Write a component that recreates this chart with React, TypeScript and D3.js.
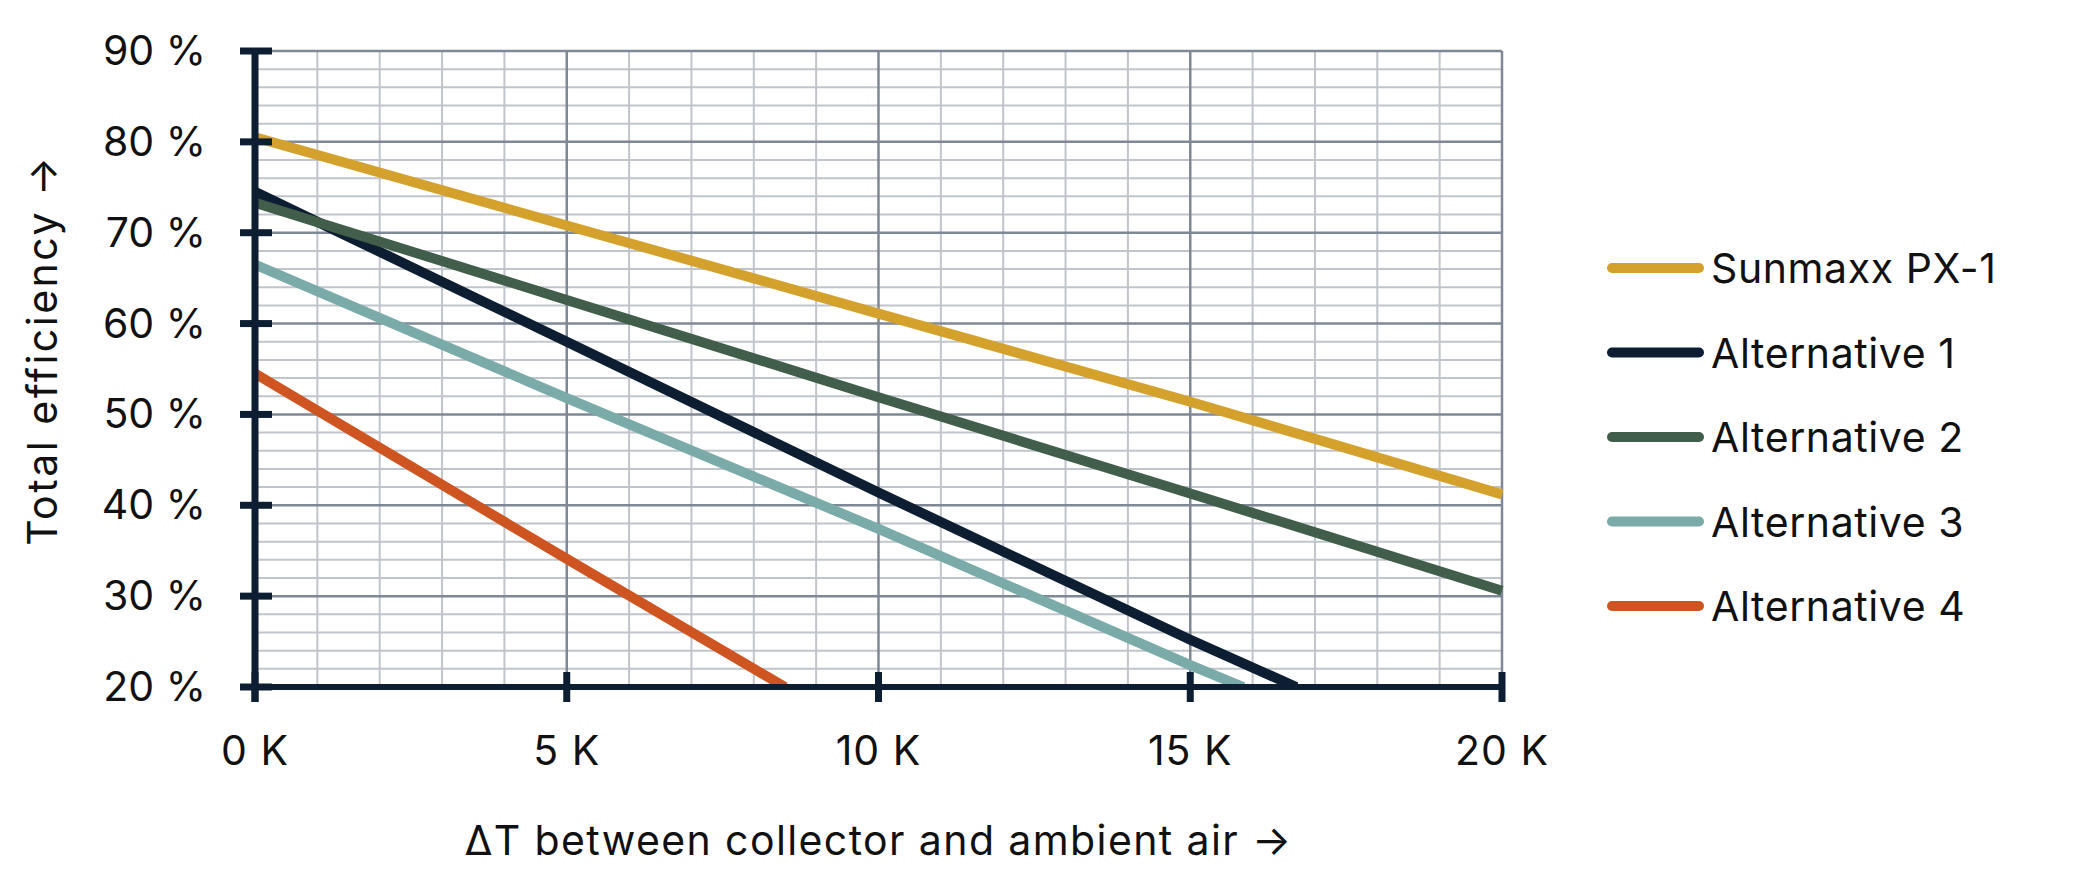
import React, { useEffect, useRef } from 'react';
import * as d3 from 'd3';

interface Series {
  name: string;
  color: string;
  points: [number, number][];
}

// values: [deltaT in K, efficiency in %]
const sunmaxx: [number, number][] = [[0, 80.5], [5, 70.8], [10, 61.1], [15, 51.4], [20, 41.2]];
const alternative1: [number, number][] = [[0, 74.5], [5, 58.0], [10, 41.4], [15, 25.2], [16.7, 20]];
const alternative2: [number, number][] = [[0, 73.3], [5, 62.6], [10, 51.9], [15, 41.3], [20, 30.6]];
const alternative3: [number, number][] = [[0, 66.5], [5, 51.8], [10, 37.4], [15, 22.4], [15.85, 20]];
const alternative4: [number, number][] = [[0, 54.5], [5, 34.1], [8.5, 20]];

const seriesNames = ['Sunmaxx PX-1', 'Alternative 1', 'Alternative 2', 'Alternative 3', 'Alternative 4'];
const seriesColors = ['#D4A12C', '#0D1E32', '#415E4A', '#7AABA8', '#CE5522'];
const seriesPoints = [sunmaxx, alternative1, alternative2, alternative3, alternative4];

const xTicks = [0, 5, 10, 15, 20];
const yTicks = [20, 30, 40, 50, 60, 70, 80, 90];

const xTitle = 'ΔT between collector and ambient air →';
const yTitle = 'Total efficiency →';

const WIDTH = 2081;
const HEIGHT = 874;
const FONT = 'Inter, "Noto Sans", sans-serif';

const App: React.FC = () => {
  const svgRef = useRef<SVGSVGElement>(null);

  useEffect(() => {
    if (!svgRef.current) return;
    const svg = d3.select(svgRef.current);
    svg.selectAll('*').remove();

    const series: Series[] = seriesNames.map((name, i) => ({
      name,
      color: seriesColors[i],
      points: seriesPoints[i],
    }));

    const x = d3.scaleLinear().domain([0, 20]).range([255, 1502]);
    const y = d3.scaleLinear().domain([20, 90]).range([687, 51]);
    const navy = '#0D1E32';

    const grid = svg.append('g');
    // minor grid
    d3.range(0, 20.01, 1).filter(v => v % 5 !== 0).forEach(v => {
      grid.append('line')
        .attr('x1', x(v)).attr('x2', x(v)).attr('y1', y(90)).attr('y2', y(20))
        .attr('stroke', '#C0C4CB').attr('stroke-width', 2);
    });
    d3.range(20, 90.01, 2).filter(v => v % 10 !== 0).forEach(v => {
      grid.append('line')
        .attr('x1', x(0)).attr('x2', x(20)).attr('y1', y(v)).attr('y2', y(v))
        .attr('stroke', '#C0C4CB').attr('stroke-width', 2);
    });
    // major grid
    xTicks.forEach(v => {
      grid.append('line')
        .attr('x1', x(v)).attr('x2', x(v)).attr('y1', y(90)).attr('y2', y(20))
        .attr('stroke', '#7F8896').attr('stroke-width', 2.5);
    });
    yTicks.forEach(v => {
      grid.append('line')
        .attr('x1', x(0)).attr('x2', x(20)).attr('y1', y(v)).attr('y2', y(v))
        .attr('stroke', '#7F8896').attr('stroke-width', 2.5);
    });

    // series lines, clipped to the plot area
    svg.append('clipPath').attr('id', 'plot-clip')
      .append('rect')
      .attr('x', x(0)).attr('y', y(90) - 10)
      .attr('width', x(20) - x(0) + 4).attr('height', y(20) - y(90) + 10);

    const line = d3.line<[number, number]>().x(d => x(d[0])).y(d => y(d[1]));
    const lines = svg.append('g').attr('clip-path', 'url(#plot-clip)');
    series.forEach(s => {
      lines.append('path')
        .attr('d', line(s.points))
        .attr('fill', 'none')
        .attr('stroke', s.color)
        .attr('stroke-width', 10);
    });

    // axes
    const axes = svg.append('g');
    axes.append('line')
      .attr('x1', x(0)).attr('x2', x(0)).attr('y1', y(90) - 3).attr('y2', y(20) + 15)
      .attr('stroke', navy).attr('stroke-width', 7);
    axes.append('line')
      .attr('x1', x(0)).attr('x2', x(20)).attr('y1', y(20)).attr('y2', y(20))
      .attr('stroke', navy).attr('stroke-width', 6);
    yTicks.forEach(v => {
      axes.append('line')
        .attr('x1', x(0) - 15).attr('x2', x(0) + 17).attr('y1', y(v)).attr('y2', y(v))
        .attr('stroke', navy).attr('stroke-width', 7);
    });
    xTicks.forEach(v => {
      axes.append('line')
        .attr('x1', x(v)).attr('x2', x(v)).attr('y1', y(20) - 15).attr('y2', y(20) + 15)
        .attr('stroke', navy).attr('stroke-width', 7);
    });

    // tick labels
    const labels = svg.append('g')
      .attr('font-family', FONT).attr('font-size', 41).attr('fill', '#111');
    yTicks.forEach(v => {
      labels.append('text')
        .attr('x', 206).attr('y', y(v) + 14)
        .attr('text-anchor', 'end')
        .text(`${v} %`);
    });
    xTicks.forEach(v => {
      labels.append('text')
        .attr('x', x(v)).attr('y', 765)
        .attr('text-anchor', 'middle')
        .attr('letter-spacing', 1)
        .text(`${v} K`);
    });
    labels.append('text')
      .attr('x', (x(0) + x(20)) / 2).attr('y', 855)
      .attr('text-anchor', 'middle')
      .attr('letter-spacing', 1.4)
      .text(xTitle);
    labels.append('text')
      .attr('transform', `translate(57, 350) rotate(-90)`)
      .attr('text-anchor', 'middle')
      .attr('letter-spacing', 2.5)
      .text(yTitle);

    // legend
    const legend = svg.append('g')
      .attr('font-family', FONT).attr('font-size', 41).attr('fill', '#111')
      .attr('letter-spacing', 0.6);
    series.forEach((s, i) => {
      const ly = 268 + i * 84.5;
      legend.append('line')
        .attr('x1', 1612).attr('x2', 1699).attr('y1', ly).attr('y2', ly)
        .attr('stroke', s.color).attr('stroke-width', 10).attr('stroke-linecap', 'round');
      legend.append('text')
        .attr('x', 1711).attr('y', ly + 15)
        .text(s.name);
    });
  }, []);

  return (
    <div style={{ position: 'absolute', left: 0, top: 0, background: '#fff' }}>
      <svg ref={svgRef} width={WIDTH} height={HEIGHT} viewBox={`0 0 ${WIDTH} ${HEIGHT}`} />
    </div>
  );
};

export default App;
